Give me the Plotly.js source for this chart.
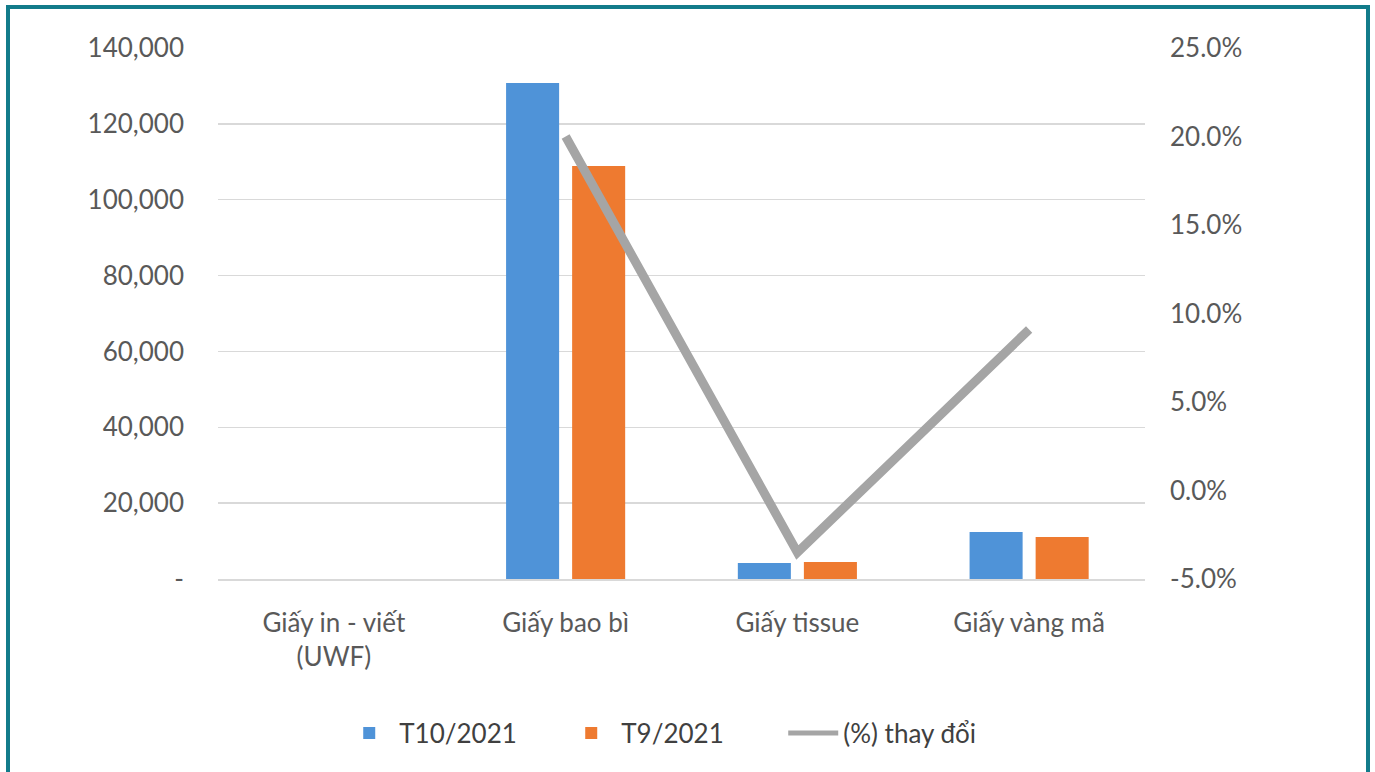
<!DOCTYPE html>
<html>
<head>
<meta charset="utf-8">
<script src="https://cdn.plot.ly/plotly-3.0.1.min.js"></script>
<style>
html,body{margin:0;padding:0;background:#fff;}
#wrap{position:absolute;left:0;top:0;width:1375px;height:772px;overflow:hidden;background:#fff;}
#frame{position:absolute;left:6px;top:5px;width:1356px;height:800px;border:4px solid #127b8a;box-sizing:content-box;pointer-events:none;z-index:2;}
#chart{position:absolute;left:0;top:0;width:1375px;height:772px;}
</style>
</head>
<body>
<div id="wrap">
<div id="chart"></div>
<div id="frame"></div>
</div>
<script>
const categories = ["Giấy in - viết<br>(UWF)", "Giấy bao bì", "Giấy tissue", "Giấy vàng mã"];
const t10_2021 = [null, 130800, 4200, 12400];
const t9_2021 = [null, 108900, 4500, 11100];
const pctChange = [null, 20.0, -3.5, 9.1];
const leftTickVals = [0, 20000, 40000, 60000, 80000, 100000, 120000, 140000];
const leftTickText = ["-", "20,000", "40,000", "60,000", "80,000", "100,000", "120,000", "140,000"];
const rightTickVals = [-5, 0, 5, 10, 15, 20, 25];
const rightTickText = ["-5.0%", "0.0%", "5.0%", "10.0%", "15.0%", "20.0%", "25.0%"];

const fontFam = "Lato, 'Open Sans', sans-serif";
const tickFont = {family: fontFam, size: 26, color: "#595959"};

const traces = [
  {type: "bar", name: "T10/2021", x: categories, y: t10_2021, marker: {color: "#4f93d8"}, yaxis: "y"},
  {type: "bar", name: "T9/2021", x: categories, y: t9_2021, marker: {color: "#ee7a30"}, yaxis: "y"},
  {type: "scatter", mode: "lines", name: "(%) thay đổi", x: categories, y: pctChange, yaxis: "y2",
   line: {color: "#a5a5a5", width: 9}, connectgaps: false}
];

const layout = {
  width: 1375, height: 772,
  paper_bgcolor: "#ffffff", plot_bgcolor: "#ffffff",
  margin: {l: 218, r: 230, t: 48, b: 193, pad: 0},
  barmode: "group", bargap: 0.43, bargroupgap: 0.197,
  font: {family: fontFam, color: "#595959"},
  showlegend: true,
  legend: {orientation: "h", x: 0.49, xanchor: "center", y: -0.29, yanchor: "middle",
    font: {family: fontFam, size: 26, color: "#404040"}, itemwidth: 50, traceorder: "normal",
    entrywidth: 157, entrywidthmode: "pixels", itemsizing: "constant"},
  xaxis: {tickfont: tickFont, showgrid: false, showline: true, linecolor: "#d9d9d9", linewidth: 2,
    ticks: "", ticklabelstandoff: 20, fixedrange: true},
  yaxis: {range: [0, 140000], tickvals: leftTickVals, ticktext: leftTickText, tickfont: tickFont,
    showgrid: true, gridcolor: "#d9d9d9", gridwidth: 1.5, zeroline: false, showline: false,
    ticks: "", ticklabelstandoff: 33},
  yaxis2: {range: [-5, 25], tickvals: rightTickVals, ticktext: rightTickText, tickfont: tickFont,
    overlaying: "y", side: "right", showgrid: false, zeroline: false, showline: false,
    ticks: "", ticklabelstandoff: 24}
};

Plotly.newPlot("chart", traces, layout, {displayModeBar: false, staticPlot: true});
</script>
</body>
</html>
